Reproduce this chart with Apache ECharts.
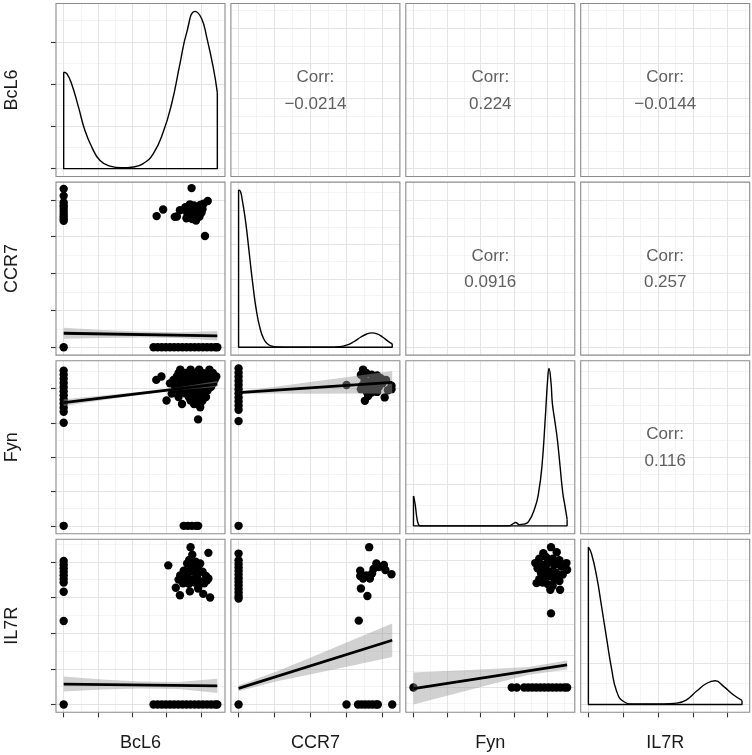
<!DOCTYPE html>
<html><head><meta charset="utf-8">
<script src="https://cdn.jsdelivr.net/npm/echarts@6/dist/echarts.min.js"></script>
<style>html,body{margin:0;padding:0;background:#fff}#c{width:752px;height:755px}</style>
</head><body><div id="c"></div><script>
// ---------------- data ----------------
const varNames = ['BcL6', 'CCR7', 'Fyn', 'IL7R'];
const varMax = [4.48, 4.27, 4.58, 4.41];
const corrPairs = [[0, 1], [0, 2], [0, 3], [1, 2], [1, 3], [2, 3]];
const corrLabels = ['\u22120.0214', '0.224', '\u22120.0144', '0.0916', '0.257', '0.116'];

const densBcL6 = [[0,0.228],[0.09,0.2245],[0.23,0.201],[0.43,0.146],[0.62,0.090],[0.82,0.051],[1.06,0.019],[1.35,0.006],[1.69,0.002],[2.03,0.004],[2.32,0.012],[2.61,0.035],[2.90,0.086],[3.15,0.154],[3.39,0.248],[3.59,0.323],[3.83,0.372],[4.02,0.355],[4.17,0.311],[4.36,0.240],[4.48,0.180]];
const densCCR7 = [[0,1.15],[0.05,1.14],[0.1,1.08],[0.2,0.91],[0.3,0.68],[0.4,0.45],[0.5,0.26],[0.6,0.135],[0.7,0.06],[0.8,0.025],[0.9,0.01],[1.1,0.002],[1.5,0],[2.5,0],[2.8,0.004],[3.0,0.015],[3.2,0.04],[3.4,0.075],[3.55,0.095],[3.7,0.105],[3.85,0.098],[4.0,0.075],[4.15,0.045],[4.27,0.025]];
const densFyn = [[0,0.36],[0.05,0.26],[0.1,0.1],[0.15,0.015],[0.2,0],[2.85,0],[2.95,0.02],[3.05,0.04],[3.15,0.015],[3.28,0.02],[3.43,0.05],[3.63,0.23],[3.73,0.40],[3.83,0.72],[3.93,1.31],[4.0,1.77],[4.04,1.9],[4.10,1.73],[4.14,1.48],[4.22,1.25],[4.29,1.04],[4.37,0.72],[4.45,0.40],[4.52,0.23],[4.58,0.08]];
const densIL7R = [[0,0.95],[0.09,0.91],[0.24,0.77],[0.38,0.59],[0.53,0.39],[0.67,0.21],[0.81,0.08],[1.0,0.019],[1.29,0.003],[2.15,0.003],[2.54,0.008],[2.82,0.028],[3.11,0.081],[3.40,0.128],[3.64,0.143],[3.88,0.109],[4.17,0.057],[4.41,0.024]];
const densStep = [0.1, 0.25, 0.5, 0.25];

const ptsBcL6CCR7 = [[0,4.30],[0,4.11],[0,3.93],[0,3.85],[0,3.78],[0,3.70],[0,3.62],[0,3.55],[0,3.48],[0,3.43],[0,0],
 [3.73,4.32],[4.20,3.97],[2.90,3.74],[2.71,3.56],[3.24,3.54],[3.39,3.72],[3.30,3.55],[4.12,3.02],
 [3.55,3.80],[3.60,3.65],[3.65,3.55],[3.70,3.75],[3.72,3.60],[3.75,3.48],[3.78,3.70],[3.80,3.85],[3.82,3.58],[3.85,3.66],[3.88,3.50],[3.90,3.78],[3.92,3.62],[3.95,3.70],[3.98,3.86],[4.02,3.66],[4.05,3.75],[4.08,3.90],[3.68,3.88],[3.58,3.50],[3.86,3.44],[3.76,3.62],[3.96,3.55],[3.63,3.72],[4.00,3.80],
 [2.62,0],[2.74,0],[2.86,0],[2.98,0],[3.10,0],[3.22,0],[3.34,0],[3.46,0],[3.58,0],[3.70,0],[3.82,0],[3.94,0],[4.06,0],[4.18,0],[4.30,0],[4.42,0],[4.48,0]];

const ptsBcL6Fyn = [[0,4.52],[0,4.40],[0,4.28],[0,4.16],[0,4.04],[0,3.92],[0,3.80],[0,3.68],[0,3.56],[0,3.44],[0,3.32],[0,3.0],[0,0],
 [3.40,4.55],[3.70,4.55],[3.95,4.55],[4.25,4.55],
 [3.35,4.45],[3.55,4.45],[3.80,4.45],[4.05,4.45],[4.20,4.45],[4.35,4.45],
 [2.85,4.35],[3.30,4.35],[3.50,4.35],[3.65,4.35],[3.85,4.35],[4.00,4.35],[4.15,4.35],[4.30,4.35],[4.45,4.35],
 [2.70,4.25],[3.20,4.25],[3.45,4.25],[3.60,4.25],[3.75,4.25],[3.90,4.25],[4.10,4.25],[4.25,4.25],[4.40,4.25],
 [3.10,4.15],[3.40,4.15],[3.55,4.15],[3.70,4.15],[3.85,4.15],[4.00,4.15],[4.20,4.15],[4.35,4.15],
 [3.25,4.05],[3.45,4.05],[3.60,4.05],[3.80,4.05],[3.95,4.05],[4.10,4.05],[4.30,4.05],
 [3.35,3.95],[3.50,3.95],[3.70,3.95],[3.90,3.95],[4.05,3.95],[4.20,3.95],
 [3.15,3.85],[3.55,3.85],[3.75,3.85],[3.90,3.85],[4.10,3.85],
 [3.35,3.75],[3.65,3.75],[3.85,3.75],[4.00,3.75],[4.15,3.75],
 [3.00,3.65],[3.70,3.65],[3.90,3.65],[4.05,3.65],
 [3.45,3.55],[3.80,3.55],[3.98,3.55],[3.98,3.45],[3.92,3.10],
 [3.50,0],[3.62,0],[3.74,0],[3.86,0],[3.92,0]];

const ptsCCR7Fyn = [[0,4.58],[0,4.46],[0,4.34],[0,4.22],[0,4.10],[0,3.98],[0,3.86],[0,3.74],[0,3.62],[0,3.50],[0,3.38],[0,3.05],[0,0],
 [3.46,4.55],[3.00,4.10],[3.51,3.64],[3.60,3.78],[4.06,3.74],[4.25,4.08],[4.25,3.98],[3.40,4.40],[3.55,4.45],[3.70,4.40],[3.85,4.38],[3.95,4.30],[3.50,4.25],[3.65,4.20],[3.80,4.22],[4.00,4.15],[4.10,4.25],[3.45,4.10],[3.60,4.05],[3.75,4.00],[3.90,4.05],[3.55,3.92],[3.70,3.88],[3.85,3.90],[4.15,3.95],[3.40,3.98]];

const ptsBcL6IL7R = [[0,4.02],[0,3.92],[0,3.82],[0,3.72],[0,3.62],[0,3.52],[0,3.42],[0,3.16],[0,2.34],[0,0],
 [3.70,4.41],[3.75,4.20],[4.22,4.25],[3.05,3.90],[3.98,3.95],[3.27,3.27],[3.39,3.06],[3.68,3.17],[3.92,3.25],[4.07,3.10],[4.27,3.00],[4.22,3.53],[3.60,3.95],[3.85,4.00],[3.70,3.85],[3.50,3.75],[3.62,3.68],[3.78,3.72],[3.92,3.80],[4.05,3.72],[4.15,3.60],[3.40,3.62],[3.55,3.55],[3.72,3.50],[3.88,3.58],[4.00,3.45],[3.48,3.40],[3.65,3.38],[3.82,3.42],[3.95,3.35],[4.10,3.40],[3.35,3.50],[3.78,3.85],[3.66,4.05],[3.90,3.65],[4.18,3.48],
 [2.62,0],[2.74,0],[2.86,0],[2.98,0],[3.10,0],[3.22,0],[3.34,0],[3.46,0],[3.58,0],[3.70,0],[3.82,0],[3.94,0],[4.06,0],[4.18,0],[4.30,0],[4.42,0],[4.48,0]];

const ptsCCR7IL7R = [[0,4.23],[0,4.04],[0,3.94],[0,3.84],[0,3.74],[0,3.64],[0,3.54],[0,3.44],[0,3.34],[0,3.24],[0,3.14],[0,3.04],[0,2.97],[0,0],
 [3.63,4.41],[3.83,3.95],[3.38,3.75],[3.38,3.60],[3.46,3.53],[3.65,3.53],[3.71,3.67],[4.04,3.91],[4.08,3.77],[4.25,3.65],[3.40,3.25],[3.58,3.04],[3.34,2.35],[3.55,3.62],[3.90,3.85],[3.75,3.80],
 [3.0,0],[3.32,0],[3.42,0],[3.52,0],[3.62,0],[3.72,0],[3.82,0],[3.87,0],[4.27,0]];

const ptsFynIL7R = [[0,0],[2.93,0],[3.08,0],[3.30,0],[3.42,0],[3.54,0],[3.66,0],[3.78,0],[3.90,0],[4.02,0],[4.14,0],[4.26,0],[4.38,0],[4.50,0],[4.58,0],
 [4.10,4.41],[3.87,4.22],[4.27,4.25],[3.63,3.91],[3.67,3.28],[4.56,3.91],[4.58,3.70],[4.08,3.07],[4.37,3.07],[4.10,2.33],[3.75,4.05],[3.95,4.10],[4.15,4.05],[4.35,4.00],[3.70,3.75],[3.85,3.85],[4.00,3.90],[4.20,3.85],[4.40,3.80],[3.80,3.60],[3.95,3.70],[4.10,3.65],[4.25,3.60],[4.45,3.55],[3.90,3.45],[4.05,3.50],[4.20,3.40],[4.35,3.35],[3.75,3.40],[4.00,3.25],[4.15,3.20],[4.30,3.50],[3.85,3.30]];

// linear fits and confidence bands [x, lower, upper]
const fitBcL6CCR7 = [[0,0.38],[4.48,0.31]];
const bandBcL6CCR7 = [[0,0.23,0.53],[1.12,0.25,0.47],[2.24,0.265,0.425],[3.36,0.25,0.41],[4.48,0.18,0.44]];
const fitBcL6Fyn = [[0,3.59],[4.48,4.13]];
const bandBcL6Fyn = [[0,3.49,3.69],[1.12,3.655,3.795],[2.24,3.815,3.905],[3.36,3.955,4.035],[4.48,4.04,4.22]];
const fitCCR7Fyn = [[0,3.88],[4.27,4.18]];
const bandCCR7Fyn = [[0,3.84,3.92],[1.07,3.855,4.055],[2.14,3.85,4.21],[3.2,3.855,4.355],[4.27,3.85,4.51]];
const fitBcL6IL7R = [[0,0.57],[4.48,0.52]];
const bandBcL6IL7R = [[0,0.36,0.78],[1.12,0.42,0.70],[2.24,0.445,0.645],[3.36,0.43,0.63],[4.48,0.32,0.72]];
const fitCCR7IL7R = [[0,0.45],[4.27,1.80]];
const bandCCR7IL7R = [[0,0.37,0.53],[1.07,0.65,0.93],[2.14,0.875,1.375],[3.2,1.10,1.82],[4.27,1.33,2.27]];
const fitFynIL7R = [[0,-0.03],[4.58,0.71]];
const bandFynIL7R = [[0,-0.53,0.47],[1.145,-0.215,0.525],[2.29,0.10,0.58],[3.435,0.405,0.645],[4.58,0.57,0.85]];

// ---------------- layout & style ----------------
const LEFT0 = 56, TOP0 = 3.5, PW = 169, PH = 173, GAPX = 5.9, GAPY = 5.6;
const FONT = "'Liberation Sans', Arial, Helvetica, sans-serif";
const densities = [densBcL6, densCCR7, densFyn, densIL7R];
const lower = {
  '1-0': {pts: ptsBcL6CCR7, fit: fitBcL6CCR7, band: bandBcL6CCR7},
  '2-0': {pts: ptsBcL6Fyn, fit: fitBcL6Fyn, band: bandBcL6Fyn},
  '2-1': {pts: ptsCCR7Fyn, fit: fitCCR7Fyn, band: bandCCR7Fyn},
  '3-0': {pts: ptsBcL6IL7R, fit: fitBcL6IL7R, band: bandBcL6IL7R},
  '3-1': {pts: ptsCCR7IL7R, fit: fitCCR7IL7R, band: bandCCR7IL7R},
  '3-2': {pts: ptsFynIL7R, fit: fitFynIL7R, band: bandFynIL7R}
};

function expand(lo, hi) { const d = (hi - lo) * 0.05; return [lo - d, hi + d]; }
function rnd(v) { return Math.round(v * 1e6) / 1e6; }
function breaks(lo, hi, step) {
  const maj = [], min = [];
  for (let k = Math.ceil(lo / step - 1e-9); k * step <= hi + 1e-9; k++) maj.push(rnd(k * step));
  for (let k = Math.ceil(lo / step - 0.5 - 1e-9); (k + 0.5) * step <= hi + 1e-9; k++) min.push(rnd((k + 0.5) * step));
  return {maj, min};
}
function gridLines(xb, yb) {
  const d = [];
  const minor = {color: '#f1f1f1', width: 0.8, type: 'solid'};
  const major = {color: '#e4e4e4', width: 1, type: 'solid'};
  xb.min.forEach(v => d.push({xAxis: v, lineStyle: minor}));
  yb.min.forEach(v => d.push({yAxis: v, lineStyle: minor}));
  xb.maj.forEach(v => d.push({xAxis: v, lineStyle: major}));
  yb.maj.forEach(v => d.push({yAxis: v, lineStyle: major}));
  return {silent: true, symbol: ['none', 'none'], label: {show: false}, z: 1, animation: false,
    emphasis: {disabled: true}, lineStyle: {type: 'solid'}, data: d};
}

const option = {animation: false, grid: [], xAxis: [], yAxis: [], series: [], graphic: []};
const tickStyle = {color: '#333333', width: 1.1};

for (let r = 0; r < 4; r++) {
  for (let c = 0; c < 4; c++) {
    const k = r * 4 + c;
    const left = LEFT0 + c * (PW + GAPX), top = TOP0 + r * (PH + GAPY);
    option.grid.push({left, top, width: PW, height: PH, show: false, containLabel: false, outerBoundsMode: 'none'});
    const xr = expand(0, varMax[c]);
    let yr, ystep = 1;
    const lp = lower[r + '-' + c];
    if (r === c) {
      const dm = Math.max(...densities[c].map(p => p[1]));
      yr = expand(0, dm); ystep = densStep[c];
    } else if (lp) {
      const lo = Math.min(0, ...lp.band.map(b => b[1]));
      yr = expand(lo, varMax[r]);
    } else {
      yr = expand(0, varMax[r]);
    }
    const xb = breaks(xr[0], xr[1], 1), yb = breaks(yr[0], yr[1], ystep);
    option.xAxis.push({gridIndex: k, type: 'value', min: xr[0], max: xr[1],
      axisLine: {show: false, onZero: false}, axisLabel: {show: false}, splitLine: {show: false},
      axisTick: {show: r === 3, customValues: xb.maj, length: 5, inside: false, lineStyle: tickStyle},
      axisPointer: {show: false}});
    option.yAxis.push({gridIndex: k, type: 'value', min: yr[0], max: yr[1],
      axisLine: {show: false, onZero: false}, axisLabel: {show: false}, splitLine: {show: false},
      axisTick: {show: c === 0, customValues: yb.maj, length: 5, inside: false, lineStyle: tickStyle},
      axisPointer: {show: false}});
    const ml = gridLines(xb, yb);

    if (r === c) {
      const dens = densities[c];
      const last = dens[dens.length - 1];
      option.series.push({type: 'line', xAxisIndex: k, yAxisIndex: k, data: dens, symbol: 'none',
        smooth: 0.5, lineStyle: {color: '#000', width: 1.4}, z: 4, silent: true, markLine: ml});
      option.series.push({type: 'line', xAxisIndex: k, yAxisIndex: k, symbol: 'none', silent: true, z: 4,
        data: [[dens[0][0], dens[0][1]], [dens[0][0], 0], [last[0], 0], [last[0], last[1]]],
        lineStyle: {color: '#000', width: 1.4}});
    } else if (lp) {
      option.series.push({type: 'scatter', xAxisIndex: k, yAxisIndex: k, data: lp.pts, symbolSize: 8.4,
        itemStyle: {color: '#000', opacity: 1}, z: 2, silent: true, markLine: ml});
      const band = lp.band;
      option.series.push({type: 'custom', xAxisIndex: k, yAxisIndex: k, data: band, z: 3, silent: true,
        renderItem: function (params, api) {
          if (params.dataIndex !== 0) return null;
          const up = band.map(b => api.coord([b[0], b[2]]));
          const lo = band.map(b => api.coord([b[0], b[1]])).reverse();
          return {type: 'polygon', shape: {points: up.concat(lo)}, style: {fill: 'rgba(153,153,153,0.45)', stroke: null}};
        }});
      option.series.push({type: 'line', xAxisIndex: k, yAxisIndex: k, data: lp.fit, symbol: 'none', z: 4, silent: true,
        lineStyle: {color: '#000', width: 2.8}});
    } else {
      option.series.push({type: 'scatter', xAxisIndex: k, yAxisIndex: k, data: [[varMax[c] / 2, varMax[r] / 2]],
        symbolSize: 0, itemStyle: {color: 'rgba(0,0,0,0)'}, silent: true, markLine: ml});
    }
    // panel border
    option.graphic.push({type: 'rect', z: 100, silent: true,
      shape: {x: left, y: top, width: PW, height: PH},
      style: {fill: 'none', stroke: '#8c8c8c', lineWidth: 1.1}});
  }
}

// correlation texts
corrPairs.forEach((p, i) => {
  const r = p[0], c = p[1];
  const cx = LEFT0 + c * (PW + GAPX) + PW / 2;
  const cy = TOP0 + r * (PH + GAPY) + PH / 2;
  option.graphic.push({type: 'text', z: 100, silent: true, x: cx, y: cy - 12.5,
    style: {text: 'Corr:', fill: '#5f5f5f', font: '17px ' + FONT, textAlign: 'center', textVerticalAlign: 'middle'}});
  option.graphic.push({type: 'text', z: 100, silent: true, x: cx, y: cy + 14,
    style: {text: corrLabels[i], fill: '#5f5f5f', font: '17px ' + FONT, textAlign: 'center', textVerticalAlign: 'middle'}});
});

// variable labels
varNames.forEach((name, i) => {
  const cx = LEFT0 + i * (PW + GAPX) + PW / 2;
  const cy = TOP0 + i * (PH + GAPY) + PH / 2;
  option.graphic.push({type: 'text', z: 100, silent: true, x: cx, y: 743,
    style: {text: name, fill: '#1a1a1a', font: '18px ' + FONT, textAlign: 'center', textVerticalAlign: 'middle'}});
  option.graphic.push({type: 'text', z: 100, silent: true, x: 12.5, y: cy, rotation: Math.PI / 2,
    style: {text: name, fill: '#1a1a1a', font: '18px ' + FONT, textAlign: 'center', textVerticalAlign: 'middle'}});
});

const chart = echarts.init(document.getElementById('c'), null, {renderer: 'canvas'});
chart.setOption(option);
</script></body></html>
